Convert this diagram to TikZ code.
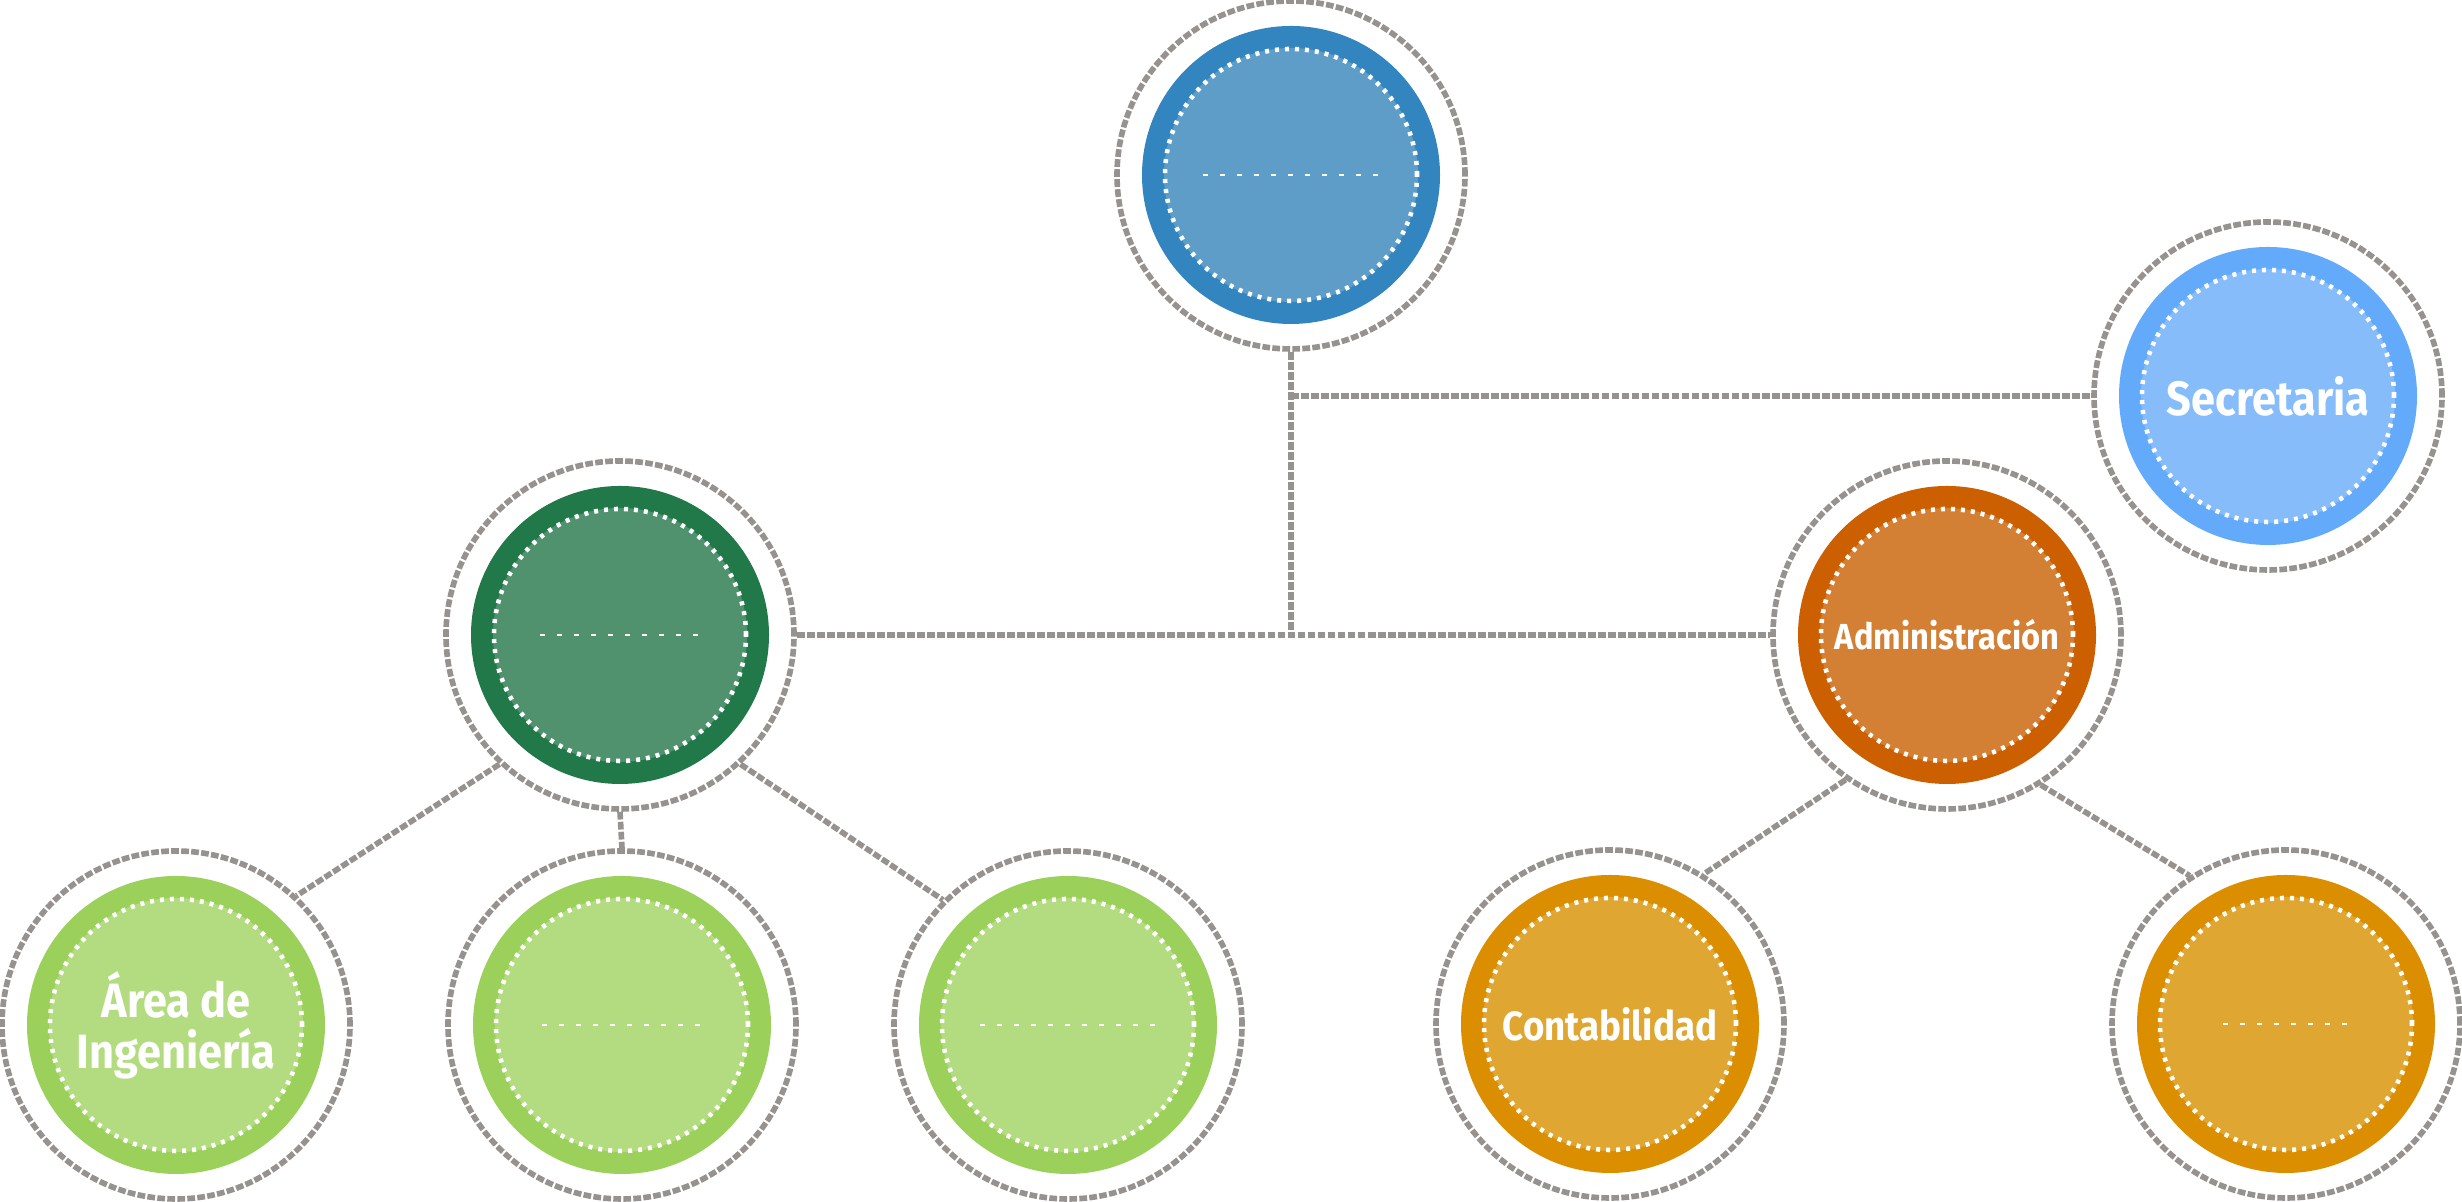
\documentclass[tikz,border=0pt]{standalone}
\usepackage{fontspec}
\usepackage{tikz}
\usetikzlibrary{positioning, calc}
\newfontfamily\orgfont[FakeStretch=0.9]{Fira Sans}
\definecolor{linegray}{RGB}{150, 146, 143}
\definecolor{topdark}{RGB}{51, 133, 191}
\definecolor{toplight}{RGB}{94, 157, 200}
\definecolor{secdark}{RGB}{100, 170, 250}
\definecolor{seclight}{RGB}{134, 188, 250}
\definecolor{ingdark}{RGB}{33, 120, 72}
\definecolor{inglight}{RGB}{80, 145, 110}
\definecolor{admdark}{RGB}{204, 96, 0}
\definecolor{admlight}{RGB}{212, 128, 52}
\definecolor{subgdark}{RGB}{155, 209, 90}
\definecolor{subglight}{RGB}{179, 219, 128}
\definecolor{subodark}{RGB}{219, 142, 0}
\definecolor{subolight}{RGB}{224, 166, 50}
\tikzset{
    ringline/.style={line width=1.6pt, line cap=butt, dash pattern=on 2.2pt off 0.65pt},
    link/.style={draw=linegray, ringline},
    unit/.style 2 args={circle, minimum size=3.48cm, inner sep=0pt, draw=linegray, ringline,
        text=white, align=center,
        path picture={
            \fill[#1] (path picture bounding box.center) circle (1.49cm);
            \fill[#2] (path picture bounding box.center) circle (1.27cm);
            \draw[white, line width=1.3pt, line cap=butt, dash pattern=on 0.04cm off 0.06cm]
                (path picture bounding box.center) circle (1.26cm);
        }},
    bigtext/.style={font=\orgfont\bfseries\fontsize{13.7}{14.5}\selectfont},
    midtext/.style={font=\orgfont\bfseries\fontsize{11.6}{13}\selectfont},
    smalltext/.style={font=\orgfont\bfseries\fontsize{10.3}{12}\selectfont},
    blank/.style={white, line width=0.6pt, dash pattern=on 0.05cm off 0.12cm}
}
\begin{document}
\begin{tikzpicture}
    \useasboundingbox (0,0) rectangle (24.62,12.02);

    % Top level
    \node[unit={topdark}{toplight}] (director) at (12.91,10.27) {};
    \node[unit={secdark}{seclight}, bigtext] (secretaria) at (22.68,8.06) {Secretaria};

    % Second level
    \node[unit={ingdark}{inglight}] (ingmain) at (6.20,5.67) {};
    \node[unit={admdark}{admlight}, smalltext] (admin) at (19.47,5.67) {Administración};

    % Third level
    \node[unit={subgdark}{subglight}, bigtext] (area) at (1.76,1.77) {Área de\\Ingeniería};
    \node[unit={subgdark}{subglight}] (subtwo) at (6.22,1.77) {};
    \node[unit={subgdark}{subglight}] (subthree) at (10.68,1.77) {};
    \node[unit={subodark}{subolight}, midtext] (conta) at (16.10,1.78) {Contabilidad};
    \node[unit={subodark}{subolight}] (subfive) at (22.86,1.78) {};

    % Empty labels
    \draw[blank] ([xshift=-8.8mm]director.center) -- ([xshift=8.8mm]director.center);
    \draw[blank] ([xshift=-8mm]ingmain.center) -- ([xshift=8mm]ingmain.center);
    \draw[blank] ([xshift=-8mm]subtwo.center) -- ([xshift=8mm]subtwo.center);
    \draw[blank] ([xshift=-8.8mm]subthree.center) -- ([xshift=8.8mm]subthree.center);
    \draw[blank] ([xshift=-6.3mm]subfive.center) -- ([xshift=6.3mm]subfive.center);

    % Connectors
    \coordinate (midjoin) at (director.south |- ingmain.east);
    \coordinate (secjoin) at (director.south |- secretaria.west);
    \draw[link] (director.south) -- (midjoin);
    \draw[link] (secjoin) -- (secretaria.west);
    \draw[link] (ingmain.east) -- (admin.west);
    \draw[link] (ingmain.-133) -- (area.47);
    \draw[link] (ingmain.south) -- (subtwo.north);
    \draw[link] (ingmain.-47) -- (subthree.135);
    \draw[link] (admin.-125) -- (conta.58);
    \draw[link] (admin.-58) -- (subfive.123);
\end{tikzpicture}
\end{document}
